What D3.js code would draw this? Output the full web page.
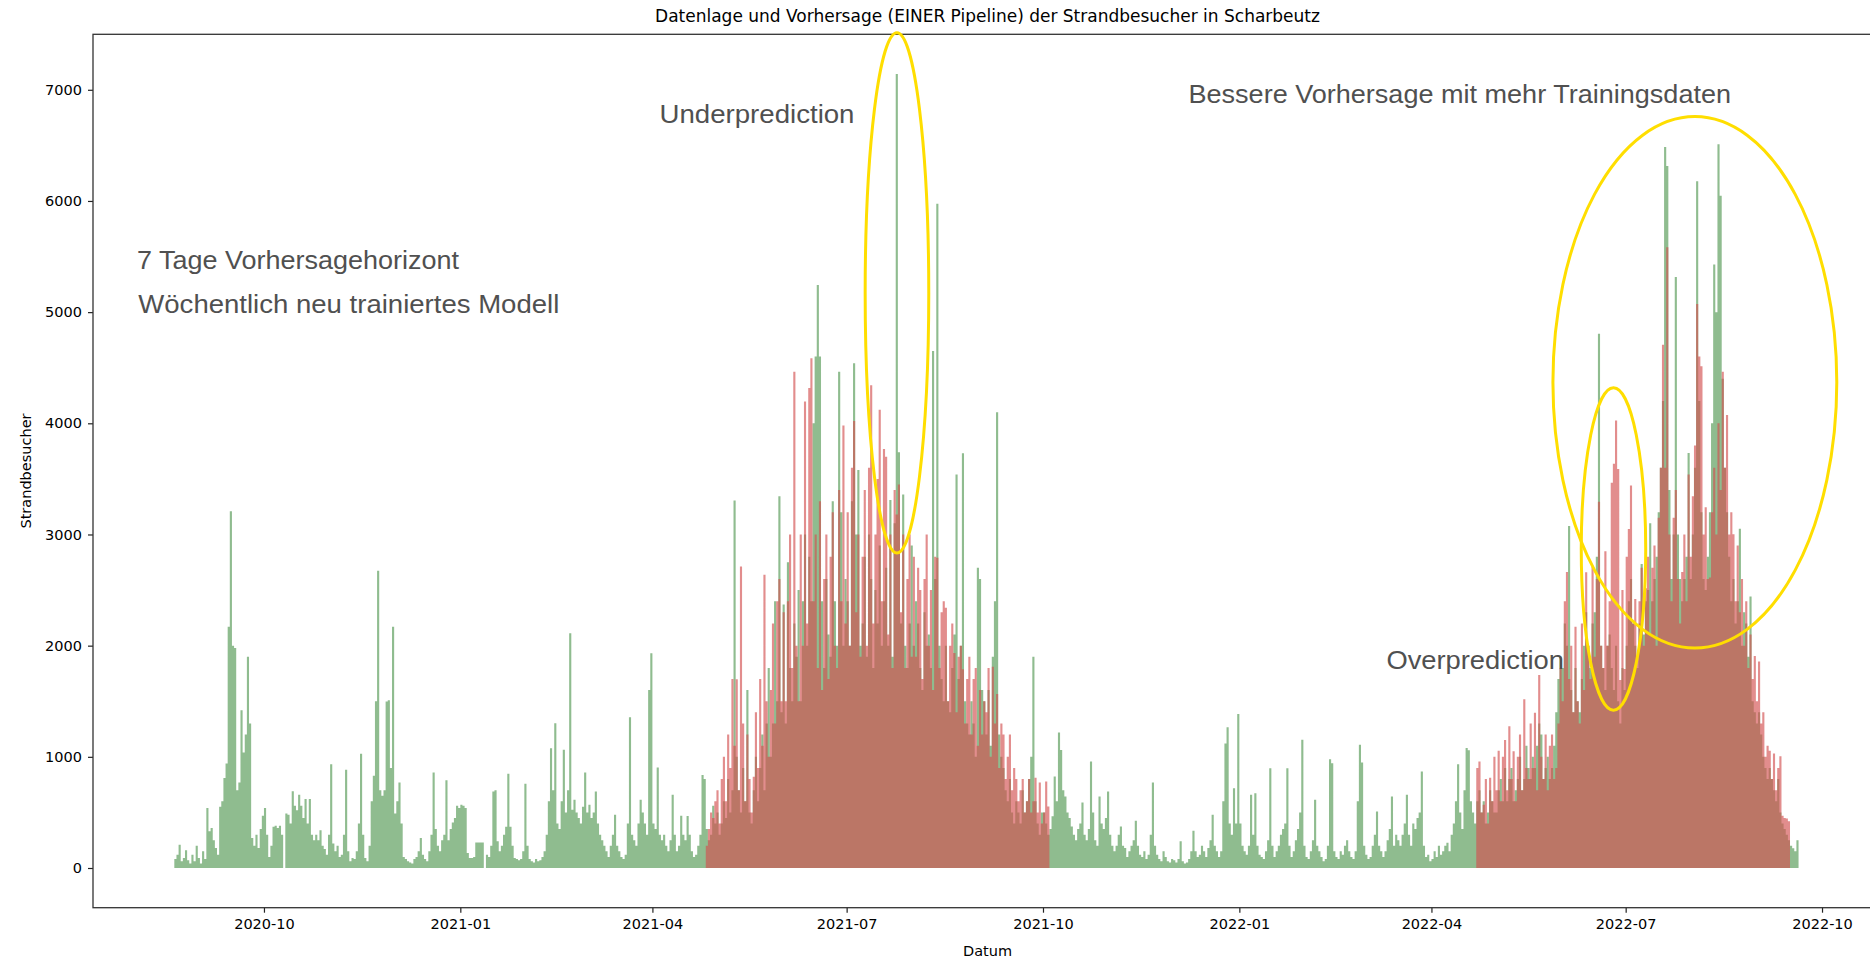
<!DOCTYPE html>
<html>
<head>
<meta charset="utf-8">
<script src="https://cdn.jsdelivr.net/npm/d3@7"></script>
<style>
  body { margin: 0; background: #fff; }
  svg { display: block; }
  .tick text { font-family: "DejaVu Sans"; font-size: 14.5px; fill: #000; }
  .tick line { stroke: #222; stroke-width: 1.2; }
  .annot { font-family: "Liberation Sans", Arial, sans-serif; font-size: 26px; fill: #505050; }
</style>
</head>
<body>
<svg id="chart" width="1870" height="958"></svg>
<script>
// daily peak of the hourly visitor counts (green = measured)
var greenStart = "2020-08-20";
var green = [
  // 2020-08 (from 20th)
  80,120,210,60,90,160,70,40,120,60,200,90,
  // 2020-09
  40,150,80,540,330,360,250,180,120,550,600,810,940,2170,3210,2000,1980,700,770,1420,1040,1200,1900,1300,270,200,300,180,350,470,
  // 2020-10
  540,300,100,200,370,380,360,380,300,0,490,480,400,690,560,520,660,560,450,620,400,620,300,250,300,250,340,200,170,120,300,
  // 2020-11
  934,220,150,200,100,120,300,883,150,60,90,80,150,400,1027,300,90,60,200,600,830,1500,2674,700,650,700,1497,1510,900,2171,
  // 2020-12
  490,600,770,400,100,80,60,50,40,80,100,150,270,120,80,60,150,300,860,350,200,150,250,300,790,250,350,410,450,560,540,
  // 2021-01
  569,560,540,135,90,90,100,230,230,230,230,0,120,100,200,688,700,240,150,200,300,370,847,370,200,90,80,70,80,150,757,
  // 2021-02
  200,80,60,50,80,60,70,100,150,300,600,1078,700,1303,400,350,600,1063,500,700,2111,524,614,500,450,400,550,860,
  // 2021-03
  500,569,450,500,688,400,300,250,200,150,100,200,300,479,200,150,100,80,120,400,1357,300,250,200,400,614,500,400,300,1602,1932,
  // 2021-04
  400,350,905,300,250,300,200,150,250,658,300,150,200,470,300,250,467,300,150,100,120,200,300,837,800,350,250,300,560,400,
  // 2021-05
  500,300,400,600,450,800,500,700,3305,1000,700,500,900,600,1600,500,400,700,1000,600,900,1200,700,1300,1800,1000,1300,2400,1500,3345,1400,
  // 2021-06
  2370,1300,2750,1800,1500,2200,1900,2500,1500,2400,3000,2000,2800,2400,4000,4600,5243,4600,2400,1800,2600,2100,1900,3300,2400,2000,4464,3200,2000,2600,
  // 2021-07
  2400,2000,3300,4540,3000,3580,2000,2200,2800,1900,3000,2600,1800,2500,2200,2900,2000,2400,2700,2000,3310,1900,3100,7142,3740,2200,3360,2000,1800,2200,2900,
  // 2021-08
  2000,2400,2200,1800,1600,2300,2000,2100,1800,4650,2600,5974,2000,1700,1500,2000,1500,1400,1800,2100,3540,1700,2000,3730,1500,1300,1200,1500,1300,1000,2700,
  // 2021-09
  2600,1600,1500,1200,1600,1100,1900,2400,4100,1200,1000,900,700,600,800,500,400,600,500,400,700,500,600,800,1000,1900,600,400,300,500,
  // 2021-10
  500,400,300,350,465,823,600,1218,1062,700,644,500,450,374,300,250,350,400,590,300,250,350,958,500,250,200,644,400,350,450,688,
  // 2021-11
  300,200,150,200,300,374,200,180,100,150,200,250,426,200,120,100,150,80,120,300,768,200,120,80,60,150,100,60,50,80,
  // 2021-12
  70,50,80,240,60,40,50,80,150,335,150,100,120,200,150,100,180,250,479,200,150,100,150,600,1121,1265,400,300,718,400,1386,
  // 2022-01
  400,200,150,120,200,658,300,673,200,120,100,80,150,250,898,200,100,150,200,300,350,400,898,200,100,150,250,350,500,1153,200,
  // 2022-02
  100,80,150,250,613,200,150,100,60,80,200,979,943,150,100,80,150,120,200,250,150,100,80,150,600,1108,950,200,
  // 2022-03
  120,80,100,200,300,509,200,150,100,150,250,350,644,200,300,250,200,300,400,658,300,200,400,350,450,500,868,200,100,120,60,
  // 2022-04
  80,150,100,200,120,150,200,227,150,300,400,600,933,500,350,700,1080,1060,600,500,400,600,700,500,600,400,500,700,600,500,
  // 2022-05
  500,700,800,600,900,600,800,900,600,700,800,1000,700,800,1100,900,800,1000,900,1100,1300,1200,800,900,1000,800,900,1100,1400,1700,1900,
  // 2022-06
  1800,2200,2000,3076,1600,1400,1800,1500,1400,1700,2000,2300,2000,1800,2200,2300,2800,4805,2000,1800,1600,2000,2100,1800,1600,2000,1500,1300,1800,1600,
  // 2022-07
  2000,2400,2600,2200,2000,1800,2200,2735,2100,2400,2500,3100,2400,2600,2800,3200,3600,4200,6485,6315,3400,2600,3000,5316,3000,2600,2400,2600,2800,3733,2600,
  // 2022-08
  3000,3600,6178,4200,3200,2600,2500,2800,3200,4000,5428,5000,6509,6047,4400,3600,3200,2800,2400,2600,2200,2400,3052,2000,2300,2200,1900,2443,1500,1400,1300,
  // 2022-09
  1400,1200,1000,900,800,900,800,700,600,800,500,400,350,300,250,200,178,150,250,324
];

// prediction (red), two forecast seasons
var pred2021Start = "2021-04-26";
var pred2021 = [
  200,350,500,450,600,
  700,400,800,1000,600,1200,900,1700,1100,1698,700,2711,1300,600,1200,800,500,820,1400,900,1700,1100,2638,1500,1000,1600,2200,1300,2400,2600,1500,
  2300,1500,2400,3000,1800,4464,2000,1500,3000,2000,4196,2200,4318,4586,2400,3000,1800,3300,1600,2600,3000,1700,2800,3200,2000,1800,3400,2400,3980,2200,
  3200,2000,3600,4020,2300,3000,1900,2800,3400,2000,3600,4342,2200,3000,3500,4123,2400,3770,3700,2100,3000,1800,3400,3180,3450,2300,3000,1800,2600,3000,1900,
  2800,1900,2700,2500,1700,2600,3000,2000,2500,1600,2800,2790,1800,2300,2400,2340,1500,2000,2200,1933,1400,1900,2000,1787,1300,1700,1900,1200,1700,1800,1100,
  1600,1200,1500,1400,1800,1000,1810,1300,1566,900,1300,1200,800,1000,1200,700,900,800,600,700,800,500,600,800,500,600,811,500,770,400,
  500,778,554,400
];

var pred2022Start = "2022-04-22";
var pred2022 = [
  900,958,500,568,800,400,811,600,1000,
  700,1055,600,1000,1152,700,1274,800,1050,600,1000,1200,700,1517,900,800,1300,900,1396,700,1737,1000,800,1201,700,1100,1200,800,900,1300,1800,
  1500,2400,2662,1700,2000,1400,2170,1500,1300,2200,1600,2660,2000,1700,2710,1900,2600,3295,2000,1800,2850,2000,2400,3466,3636,4026,3590,1690,2500,1790,
  2800,3050,3441,2200,2420,1900,2400,2700,2000,2516,2800,2100,2700,2900,2000,3150,3600,4707,3600,5584,3000,2400,3150,3400,2600,2200,2662,3000,2400,3540,2800,
  3344,3800,5073,4600,4513,3000,3246,2600,2613,3200,3600,3000,4000,3400,4464,3600,4074,3000,3200,3003,2400,2900,2300,2600,2000,2400,1800,2100,1700,1907,1500,
  1858,1300,1400,1000,1100,1055,800,1030,700,900,1006,470,450,446,420,380
];

var xTickLabels = ["2020-10", "2021-01", "2021-04", "2021-07", "2021-10", "2022-01", "2022-04", "2022-07", "2022-10"];
var yTicks = [0, 1000, 2000, 3000, 4000, 5000, 6000, 7000];

// yellow highlight ellipses: centre (date, value), half width in days, half height in visitors
var ellipseCenters = ["2021-07-24 14", "2022-08-02 10", "2022-06-25 07"];
var ellipseValues = [5173, 4369, 2870];
var ellipseHalfDays = [14.9, 66.5, 15.1];
var ellipseHalfValues = [2340, 2390, 1450];

var annotTexts = ["Underprediction", "Bessere Vorhersage mit mehr Trainingsdaten", "7 Tage Vorhersagehorizont",
                  "Wöchentlich neu trainiertes Modell", "Overprediction"];

var parseDay = d3.utcParse("%Y-%m-%d");
var parseHour = d3.utcParse("%Y-%m-%d %H");

function toSeries(start, values) {
  var s = parseDay(start);
  return values.map(function(v, i) { return {date: d3.utcDay.offset(s, i), value: v}; });
}

var greenData = toSeries(greenStart, green);
var predA = toSeries(pred2021Start, pred2021);
var predB = toSeries(pred2022Start, pred2022);

var plotLeft = 93, plotRight = 1882, plotTop = 34.3, plotBottom = 907.7;

// matplotlib style 5% margins
var t0 = greenData[0].date;
var t1 = d3.utcDay.offset(greenData[greenData.length - 1].date, 1);
var tPad = (t1 - t0) * 0.05;
var xScale = d3.scaleUtc().domain([new Date(+t0 - tPad), new Date(+t1 + tPad)]).range([plotLeft, plotRight]);

var vMax = d3.max(green);
var vPad = vMax * 0.05;
var yScale = d3.scaleLinear().domain([-vPad, vMax + vPad]).range([plotBottom, plotTop]);

var svg = d3.select("#chart");

var area = d3.area()
  .curve(d3.curveStepAfter)
  .x(function(d) { return xScale(d.date); })
  .y0(yScale(0))
  .y1(function(d) { return yScale(d.value); });

svg.append("path")
  .datum(greenData)
  .attr("d", area)
  .attr("fill", "#8fbc8f");

[predA, predB].forEach(function(p) {
  svg.append("path")
    .datum(p)
    .attr("d", area)
    .attr("fill", "#d25050")
    .attr("fill-opacity", 0.65);
});

// axes
var xAxis = d3.axisBottom(xScale)
  .tickValues(xTickLabels.map(function(s) { return d3.utcParse("%Y-%m")(s); }))
  .tickFormat(d3.utcFormat("%Y-%m"))
  .tickSize(5).tickPadding(6);
var gx = svg.append("g").attr("transform", "translate(0," + plotBottom + ")").call(xAxis);
gx.select(".domain").remove();

var yAxis = d3.axisLeft(yScale).tickValues(yTicks).tickFormat(d3.format("d")).tickSize(5).tickPadding(6);
var gy = svg.append("g").attr("transform", "translate(" + plotLeft + ",0)").call(yAxis);
gy.select(".domain").remove();

svg.append("rect")
  .attr("x", plotLeft).attr("y", plotTop)
  .attr("width", plotRight - plotLeft).attr("height", plotBottom - plotTop)
  .attr("fill", "none").attr("stroke", "#333").attr("stroke-width", 1.3);

svg.append("text")
  .attr("x", (plotLeft + plotRight) / 2).attr("y", 22)
  .attr("text-anchor", "middle")
  .style("font-family", "DejaVu Sans").style("font-size", "17px")
  .text("Datenlage und Vorhersage (EINER Pipeline) der Strandbesucher in Scharbeutz");

svg.append("text")
  .attr("x", (plotLeft + plotRight) / 2).attr("y", 956)
  .attr("text-anchor", "middle")
  .style("font-family", "DejaVu Sans").style("font-size", "14.5px")
  .text("Datum");

svg.append("text")
  .attr("transform", "translate(31," + (plotTop + plotBottom) / 2 + ") rotate(-90)")
  .attr("text-anchor", "middle")
  .style("font-family", "DejaVu Sans").style("font-size", "14.5px")
  .text("Strandbesucher");

// yellow ellipses
ellipseCenters.forEach(function(c, i) {
  var cd = parseHour(c);
  var cx = xScale(cd);
  var cy = yScale(ellipseValues[i]);
  var rx = xScale(new Date(+cd + ellipseHalfDays[i] * 864e5)) - cx;
  var ry = yScale(ellipseValues[i] - ellipseHalfValues[i]) - cy;
  svg.append("ellipse")
    .attr("cx", cx).attr("cy", cy).attr("rx", rx).attr("ry", ry)
    .attr("fill", "none").attr("stroke", "#ffde00").attr("stroke-width", 3);
});

// annotation texts (placed in pixel space like the slide overlay)
var annotPos = [[659.5, 123, 195], [1188.5, 102.7, 542.5], [137, 269.3, 322], [138.3, 312.7, 421], [1386.4, 669.3, 177.6]];
annotTexts.forEach(function(t, i) {
  svg.append("text")
    .attr("class", "annot")
    .attr("x", annotPos[i][0]).attr("y", annotPos[i][1])
    .attr("textLength", annotPos[i][2]).attr("lengthAdjust", "spacingAndGlyphs")
    .text(t);
});
</script>
</body>
</html>
